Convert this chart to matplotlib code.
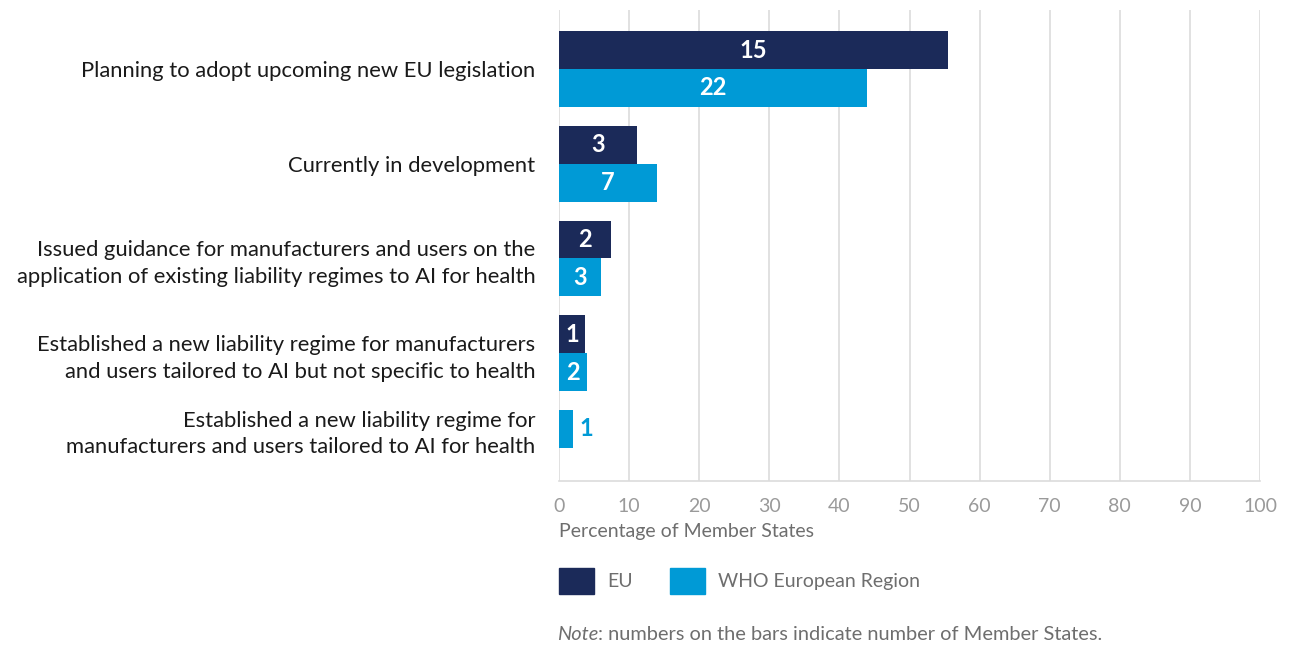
import matplotlib
matplotlib.use("Agg")
import matplotlib.pyplot as plt
from matplotlib.patches import Patch

plt.rcParams['font.family'] = ['Lato', 'DejaVu Sans']

# Survey answers, top to bottom
categories = [
    "Planning to adopt upcoming new EU legislation",
    "Currently in development",
    "Issued guidance for manufacturers and users on the\napplication of existing liability regimes to AI for health",
    "Established a new liability regime for manufacturers\nand users tailored to AI but not specific to health",
    "Established a new liability regime for\nmanufacturers and users tailored to AI for health",
]
# number of Member States giving each answer (None = no bar)
eu_counts = [15, 3, 2, 1, None]
region_counts = [22, 7, 3, 2, 1]
# respondents in each group
eu_total = 27
region_total = 50

eu_pct = [None if c is None else c / eu_total * 100 for c in eu_counts]
region_pct = [c / region_total * 100 for c in region_counts]

eu_color = '#1b2a59'
region_color = '#009ad6'
grey_text = '#6e6e6e'

fig = plt.figure(figsize=(12.91, 6.45), dpi=100)
W, H = 1291, 645
ax = fig.add_axes([559 / W, 1 - 481 / H, (1260 - 559) / W, (481 - 10) / H])

ypos = [0, 1, 2, 3, 3.8]
h = 0.40

for i, y in enumerate(ypos):
    if eu_pct[i] is None:
        # only one bar, centre it on the category
        ax.barh(y, region_pct[i], height=h, color=region_color)
        yb = y
    else:
        ax.barh(y - h / 2, eu_pct[i], height=h, color=eu_color)
        ax.text(eu_pct[i] / 2, y - h / 2, str(eu_counts[i]), color='white',
                fontsize=17, fontweight='bold', ha='center', va='center')
        ax.barh(y + h / 2, region_pct[i], height=h, color=region_color)
        yb = y + h / 2
    if region_pct[i] >= 3:
        ax.text(region_pct[i] / 2, yb, str(region_counts[i]), color='white',
                fontsize=17, fontweight='bold', ha='center', va='center')
    else:
        ax.text(region_pct[i] + 0.9, yb, str(region_counts[i]), color=region_color,
                fontsize=17, fontweight='bold', ha='left', va='center')

ax.set_xlim(0, 100)
ax.set_ylim(4.35, -0.623)
ax.set_xticks(range(0, 101, 10))
ax.set_yticks(ypos)
ax.set_yticklabels(categories, fontsize=15.8, color='#1a1a1a', linespacing=1.4)
ax.tick_params(axis='y', length=0, pad=17)
ax.tick_params(axis='x', length=0, pad=12, labelsize=14, labelcolor='#9a9a9a')
ax.grid(axis='x', color='#dcdcdc', linewidth=1.2)
ax.set_axisbelow(True)
for s in ['top', 'right', 'left']:
    ax.spines[s].set_visible(False)
ax.spines['bottom'].set_color('#dcdcdc')
ax.spines['bottom'].set_linewidth(1.2)

ax.set_xlabel("Percentage of Member States", fontsize=14, color=grey_text,
              loc='left', labelpad=6)

handles = [Patch(color=eu_color, label='EU'),
           Patch(color=region_color, label='WHO European Region')]
fig.legend(handles=handles, loc='center left', bbox_to_anchor=(541 / W, 1 - 581 / H),
           ncol=2, frameon=False, fontsize=14, handlelength=1.8, handleheight=1.65,
           handletextpad=0.7, columnspacing=1.9, labelcolor=grey_text)

note = fig.text(557 / W, 1 - 634 / H, "Note", fontsize=14.4, style='italic',
                color=grey_text, va='center')
ax.annotate(": numbers on the bars indicate number of Member States.",
            xy=(1, 0), xycoords=note, va='bottom', ha='left',
            fontsize=14.4, color=grey_text, annotation_clip=False)

fig.savefig("out.png", dpi=100)
